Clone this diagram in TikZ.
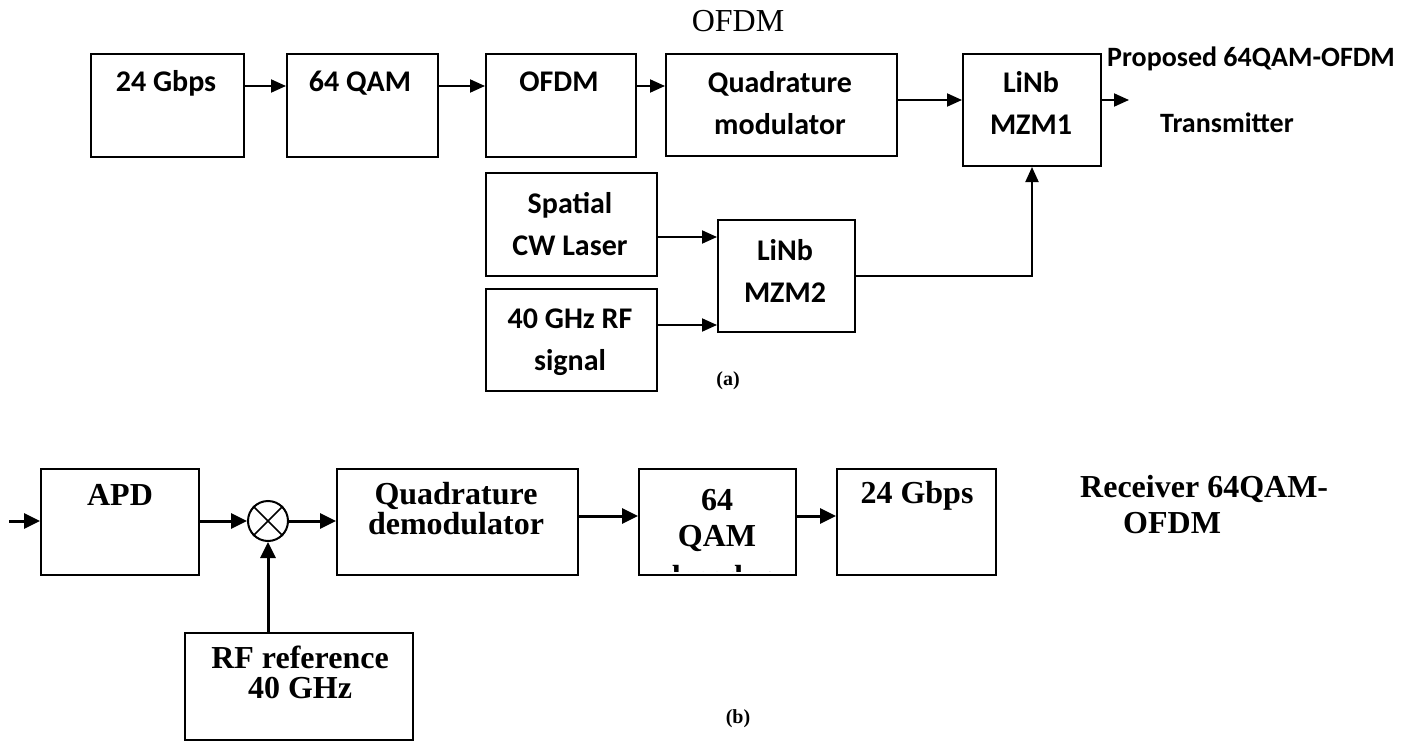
\documentclass[tikz,border=0pt]{standalone}
\usepackage{fontspec}
\newfontfamily\calib{Carlito}
\newfontfamily\timesf{Liberation Serif}
\usetikzlibrary{arrows.meta}
\tikzset{
 blk/.style={draw,line width=2pt,inner sep=0pt},
 tx/.style={inner sep=0pt,anchor=base,align=center,font=\calib\bfseries\fontsize{30}{42}\selectfont},
 rx/.style={inner sep=0pt,anchor=base,align=center,font=\timesf\bfseries\fontsize{32}{30}\selectfont},
 arr/.style={line width=2pt,-{Triangle[length=15pt,width=13pt]}},
 rarr/.style={line width=3pt,-{Triangle[length=16pt,width=15pt]}}
}
\begin{document}
\begin{tikzpicture}[x=1pt,y=-1pt]
\useasboundingbox (0,0) rectangle (1411,741);
\node[inner sep=0pt,anchor=base,font=\timesf\fontsize{32}{36}\selectfont] (ttl) at (738,32) {OFDM};
\node[blk,minimum width=153,minimum height=103] (gbps) at (167.5,105.5) {};
\node[blk,minimum width=151,minimum height=103] (qam) at (362.5,105.5) {};
\node[blk,minimum width=150,minimum height=103] (ofdm) at (561,105.5) {};
\node[blk,minimum width=231,minimum height=102] (quad) at (781.5,105) {};
\node[blk,minimum width=138,minimum height=112] (mzm1) at (1032,110) {};
\node[blk,minimum width=171,minimum height=103] (laser) at (571.5,224.5) {};
\node[blk,minimum width=171,minimum height=102] (rfsig) at (571.5,340) {};
\node[blk,minimum width=137,minimum height=112] (mzm2) at (786.5,276) {};
\node[tx] (gbpsT) at (166,92) {24 Gbps};
\node[tx] (qamT) at (360,92) {64 QAM};
\node[tx] (ofdmT) at (559,92) {OFDM};
\node[tx] (quadT) at (780,135) {Quadrature\\modulator};
\node[tx] (mzm1T) at (1031,135) {LiNb\\MZM1};
\node[tx] (laserT) at (570,255) {Spatial\\CW Laser};
\node[tx] (rfsigT) at (570,370) {40 GHz RF\\signal};
\node[tx] (mzm2T) at (785,302) {LiNb\\MZM2};
\node[tx,anchor=base west,font=\calib\bfseries\fontsize{28}{34}\selectfont] (txA) at (1107,67) {Proposed 64QAM-OFDM};
\node[tx,anchor=base west,font=\calib\bfseries\fontsize{28}{34}\selectfont] (txB) at (1160,132) {Transmitter};
\node[rx,font=\timesf\bfseries\fontsize{20}{24}\selectfont] (capa) at (728,385) {(a)};
\coordinate (txout) at (1129,100);
\draw[arr] (gbps.east |- 0,86) -- (qam.west |- 0,86);
\draw[arr] (qam.east |- 0,86) -- (ofdm.west |- 0,86);
\draw[arr] (ofdm.east |- 0,86) -- (quad.west |- 0,86);
\draw[arr] (quad.east |- 0,100) -- (mzm1.west |- 0,100);
\draw[arr] (mzm1.east |- 0,100) -- (txout);
\draw[arr] (laser.east |- 0,237) -- (mzm2.west |- 0,237);
\draw[arr] (rfsig.east |- 0,325) -- (mzm2.west |- 0,325);
\draw[arr] (mzm2.east |- 0,276) -| (mzm1.south);
\node[blk,minimum width=158,minimum height=106] (apd) at (120,522) {};
\node[draw,line width=2pt,circle,minimum size=40,inner sep=0pt] (mix) at (268,521) {};
\node[blk,minimum width=241,minimum height=106] (demod) at (457.5,522) {};
\node[blk,minimum width=157,minimum height=106] (qamd) at (717.5,522) {};
\node[blk,minimum width=159,minimum height=106] (gbpsr) at (916.5,522) {};
\node[blk,minimum width=228,minimum height=107] (rfref) at (299,686.5) {};
\draw[line width=1.5pt] (mix.north west) -- (mix.south east) (mix.north east) -- (mix.south west);
\node[rx] (apdT) at (120,505) {APD};
\node[rx] (demodT) at (456,534) {Quadrature\\demodulator};
\begin{scope}
\clip (qamd.north west) rectangle ([yshift=4.5pt]qamd.south east);
\node[rx,font=\timesf\bfseries\fontsize{32}{36}\selectfont] (qamdT) at (717,587) {64\\QAM\\[5pt]decoder};
\end{scope}
\node[rx] (gbpsrT) at (917,503) {24 Gbps};
\node[rx] (rfrefT) at (300,698) {RF reference\\40 GHz};
\node[rx,anchor=base west] (rxA) at (1080,497) {Receiver 64QAM-};
\node[rx,anchor=base west] (rxB) at (1123,533) {OFDM};
\node[rx,font=\timesf\bfseries\fontsize{20}{24}\selectfont] (capb) at (738,723) {(b)};
\coordinate (rxin) at (9,521);
\draw[rarr] (rxin) -- (apd.west |- 0,521);
\draw[rarr] (apd.east |- 0,521) -- (mix.west);
\draw[rarr] (mix.east) -- (demod.west |- 0,521);
\draw[rarr] (demod.east |- 0,516) -- (qamd.west |- 0,516);
\draw[rarr] (qamd.east |- 0,516) -- (gbpsr.west |- 0,516);
\draw[rarr] (rfref.north -| mix.south) -- (mix.south);
\end{tikzpicture}
\end{document}
